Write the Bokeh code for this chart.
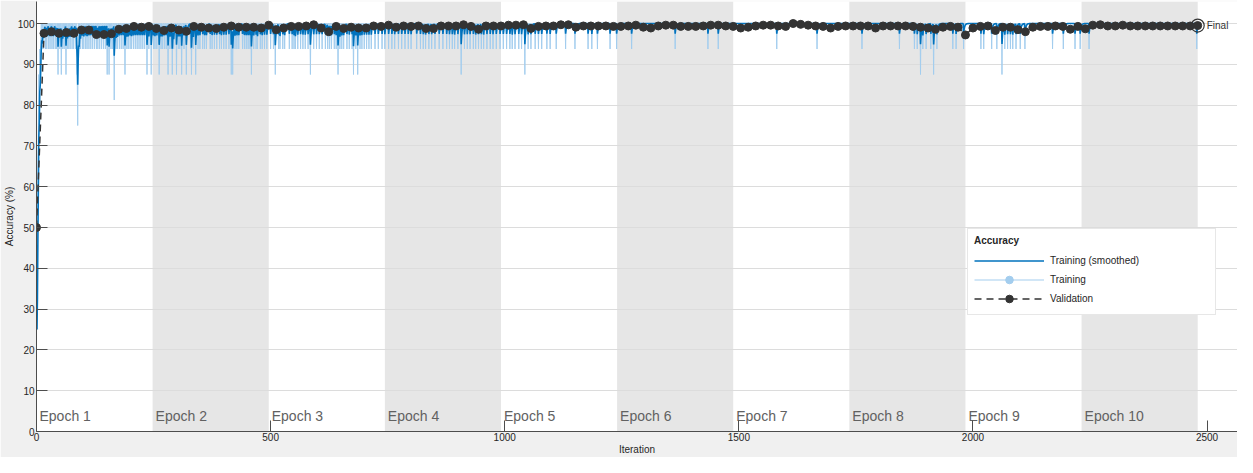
import numpy as np
from bokeh.plotting import figure
from bokeh.models import (ColumnDataSource, BoxAnnotation, Legend, LegendItem,
                          Range1d, FixedTicker)
from bokeh.embed import file_html
from bokeh.resources import INLINE
from bokeh.core.properties import value

# ---------------- data ----------------
iters_per_epoch = 248
num_epochs = 10
val_freq = 16
epoch_labels = ["Epoch %d" % (i + 1) for i in range(num_epochs)]
x_ticks = [0, 500, 1000, 1500, 2000, 2500]
y_ticks = [0, 10, 20, 30, 40, 50, 60, 70, 80, 90, 100]

# training accuracy for the first iterations
train_start = [25, 37.5, 62.5, 75, 87.5, 81.25, 93.75, 87.5]
# iterations where the mini-batch accuracy was below 100 %
dips_9375 = [9, 12, 15, 19, 22, 26, 29, 33, 36, 40, 43, 50, 56, 59, 66, 69, 72, 76, 79, 83,
             91, 94, 98, 101, 105, 108, 112, 116, 120, 124, 128, 131, 135, 139, 143, 147,
             159, 162, 170, 173, 177, 181, 185, 193, 196, 200, 203, 207, 211, 215, 219,
             223, 227, 231, 240, 250, 253, 257, 266, 269, 273, 277, 285, 288, 293, 303,
             306, 315, 329, 335, 345, 349, 355, 359, 363, 371, 375, 380, 385, 391, 395,
             400, 405, 411, 424, 428, 432, 440, 444, 448, 452, 456, 464, 469, 472, 478,
             482, 487, 492, 500, 506, 517, 520, 526, 530, 540, 546, 550, 553, 558, 564,
             569, 574, 580, 592, 598, 604, 610, 617, 622, 626, 630, 636, 640, 648, 652,
             656, 663, 668, 674, 682, 691, 695, 700, 705, 710, 715, 723, 730, 738, 744,
             752, 759, 765, 773, 780, 787, 794, 800, 812, 820, 826, 831, 838, 844, 851,
             860, 868, 876, 882, 888, 893, 900, 914, 920, 926, 933, 938, 944, 950, 955,
             962, 969, 975, 982, 990, 997, 1004, 1011, 1016, 1022, 1030, 1036, 1050,
             1056, 1065, 1072, 1079, 1090, 1097, 1110, 1130, 1150, 1178, 1186, 1198,
             1225, 1239, 1271, 1364, 1434, 1456, 1581, 1667, 1763, 1843, 1875, 1881,
             1893, 1900, 1910, 1923, 1957, 1964, 1980, 2017, 2023, 2040, 2051, 2068,
             2074, 2080, 2085, 2092, 2101, 2111, 2170, 2193, 2218, 2229, 2248, 2478]
dips_875 = [46, 53, 63, 86, 87, 151, 155, 189, 236, 245, 262, 281, 290, 299, 310, 320,
            331, 340, 416, 419, 459, 510, 585, 644, 677, 686, 907, 1043, 1888, 1916, 2062]
dips_8125 = [166]
dips_75 = [88]

# validation accuracy, every 16 iterations from 0 to 2480
val_acc = [50,
           97.6, 98.0, 97.6, 97.8, 97.6, 98.4, 98.4, 97.3, 97.3, 97.5, 98.6, 98.8, 99.3,
           99.1, 99.3, 98.8, 98.3, 98.9, 98.4, 98.1, 99.3, 99.1, 98.9, 98.8, 99.1, 99.4,
           99.1, 99.1, 99.1, 98.9, 99.6, 98.5, 98.9, 99.3, 99.3, 99.4, 99.7, 98.9, 98.0,
           99.3, 98.8, 99.1, 98.9, 98.9, 99.4, 99.3, 99.6, 99.1, 99.4, 99.3, 99.4, 98.8, 98.8,
           99.4, 99.4, 99.4, 99.7, 99.3, 98.6, 99.4, 99.4, 99.4, 99.6, 99.6, 99.7, 98.8,
           99.3, 99.4, 99.4, 99.7, 99.7, 99.1, 99.4, 99.4, 99.4, 99.4, 99.3, 99.3, 99.4, 99.6,
           99.1, 98.9, 99.4, 99.6, 99.6, 99.3, 99.3, 99.3, 99.4, 99.6, 99.6, 99.4, 99.3,
           98.9, 99.1, 99.4, 99.6, 99.6, 99.4, 99.3, 100, 99.8, 99.6, 99.4, 99.3, 98.9, 99.3,
           99.4, 99.4, 99.4, 99.4, 98.9, 99.4, 99.4, 99.4, 99.4, 99.3, 99.1, 98.9, 98.6,
           99.1, 99.3, 99.1, 97.2, 98.9, 99.3, 99.4, 98.3, 99.1, 99.1, 98.5, 98.0, 99.1, 99.3,
           99.3, 99.4, 99.3, 98.6, 99.3, 98.7, 99.6, 99.7, 99.4, 99.4, 99.6, 99.4, 99.4,
           99.4, 99.4, 99.4, 99.4, 99.4, 99.4, 99.4, 99.5]

# ---------------- build series ----------------
n_iter = iters_per_epoch * num_epochs
train = np.full(n_iter, 100.0)
train[:len(train_start)] = train_start
for it in dips_9375:
    train[it - 1] = 93.75
for it in dips_875:
    train[it - 1] = 87.5
for it in dips_8125:
    train[it - 1] = 81.25
for it in dips_75:
    train[it - 1] = 75.0
iters = np.arange(1, n_iter + 1)

# exponential smoothing (as in the training-progress plot)
smooth = np.empty(n_iter)
s = 0.0
for i, v in enumerate(train):
    s = 0.6 * s + 0.4 * v
    smooth[i] = s / (1 - 0.6 ** (i + 1))

val_iters = np.arange(len(val_acc)) * val_freq

# ---------------- figure ----------------
W, H = 1237, 457
p = figure(width=W, height=H, output_backend="svg", toolbar_location=None,
           x_range=Range1d(0, 2565), y_range=Range1d(0, 105.4),
           min_border_left=36, min_border_right=0, min_border_top=1, min_border_bottom=24)
p.border_fill_color = "#f0f0f0"
p.background_fill_color = "white"
p.outline_line_color = None

# epoch shading (even epochs)
for e in range(1, num_epochs, 2):
    p.add_layout(BoxAnnotation(left=e * iters_per_epoch, right=(e + 1) * iters_per_epoch,
                               fill_color="#e6e6e6", fill_alpha=1.0, line_color=None,
                               level="image"))

p.xgrid.grid_line_color = None
p.ygrid.grid_line_color = "#dcdcdc"
p.ygrid.grid_line_width = 1
p.ygrid.level = "underlay"

font = "Liberation Sans"
for ax in (p.xaxis[0], p.yaxis[0]):
    ax.axis_line_color = "#4d4d4d"
    ax.major_tick_line_color = "#4d4d4d"
    ax.major_tick_in = 11
    ax.major_tick_out = 0
    ax.minor_tick_line_color = None
    ax.major_label_text_font = font
    ax.major_label_text_font_size = "10px"
    ax.major_label_text_color = "#262626"
    ax.axis_label_text_font = font
    ax.axis_label_text_font_size = "10px"
    ax.axis_label_text_color = "#262626"
    ax.axis_label_text_font_style = "normal"
p.xaxis.ticker = FixedTicker(ticks=x_ticks)
p.yaxis.ticker = FixedTicker(ticks=y_ticks)
p.xaxis.axis_label = "Iteration"
p.yaxis.axis_label = "Accuracy (%)"
p.xaxis.major_label_standoff = 1
p.xaxis.axis_label_standoff = 0
p.yaxis.major_label_standoff = 2
p.yaxis.axis_label_standoff = 0

# epoch labels
ep_src = ColumnDataSource(dict(x=[i * iters_per_epoch for i in range(num_epochs)],
                               y=[3.9] * num_epochs, t=epoch_labels))
p.text(x="x", y="y", text="t", source=ep_src, x_offset=3,
       text_font=value(font), text_font_size="14px", text_color="#616161",
       text_baseline="middle", text_align="left")

# training raw
tr_src = ColumnDataSource(dict(x=iters, y=train))
r_train = p.line("x", "y", source=tr_src, line_color="#a3cdee", line_width=1)
r_train_mk = p.scatter(x=[float("nan")], y=[float("nan")], marker="circle", size=8,
                       fill_color="#a3cdee", line_color="#a3cdee")
# smoothed
sm_src = ColumnDataSource(dict(x=iters, y=smooth))
r_smooth = p.line("x", "y", source=sm_src, line_color="#0072bd", line_width=1.6)
# validation
va_src = ColumnDataSource(dict(x=val_iters, y=val_acc))
r_val_line = p.line("x", "y", source=va_src, line_color="#333333", line_width=1.5,
                    line_dash="7 5")
r_val_pts = p.scatter("x", "y", source=va_src, marker="circle", size=8,
                      fill_color="#333333", line_color="#333333")

# final marker and label
fin_src = ColumnDataSource(dict(x=[val_iters[-1]], y=[val_acc[-1]], t=["Final"]))
p.scatter("x", "y", source=fin_src, marker="circle", size=13, fill_color=None,
          line_color="#333333", line_width=1.2)
p.text(x="x", y="y", text="t", source=fin_src, x_offset=9,
       text_font=value(font), text_font_size="10px", text_color="#333333",
       text_baseline="middle", text_align="left")

legend = Legend(items=[
    LegendItem(label="Training (smoothed)", renderers=[r_smooth]),
    LegendItem(label="Training", renderers=[r_train, r_train_mk]),
    LegendItem(label="Validation", renderers=[r_val_line, r_val_pts]),
], location=(931, 116))
legend.title = "Accuracy"
legend.title_text_font = font
legend.title_text_font_style = "bold"
legend.title_text_font_size = "10px"
legend.title_text_color = "#262626"
legend.title_standoff = 5
legend.label_text_font = font
legend.label_text_font_size = "10px"
legend.label_text_color = "#262626"
legend.glyph_width = 70
legend.glyph_height = 19
legend.label_height = 19
legend.label_width = 159
legend.label_standoff = 6
legend.spacing = 0
legend.padding = 6
legend.margin = 0
legend.border_line_color = "#d0d0d0"
legend.background_fill_color = "white"
legend.background_fill_alpha = 1.0
p.add_layout(legend)

open("out.html", "w").write(file_html(p, INLINE))
